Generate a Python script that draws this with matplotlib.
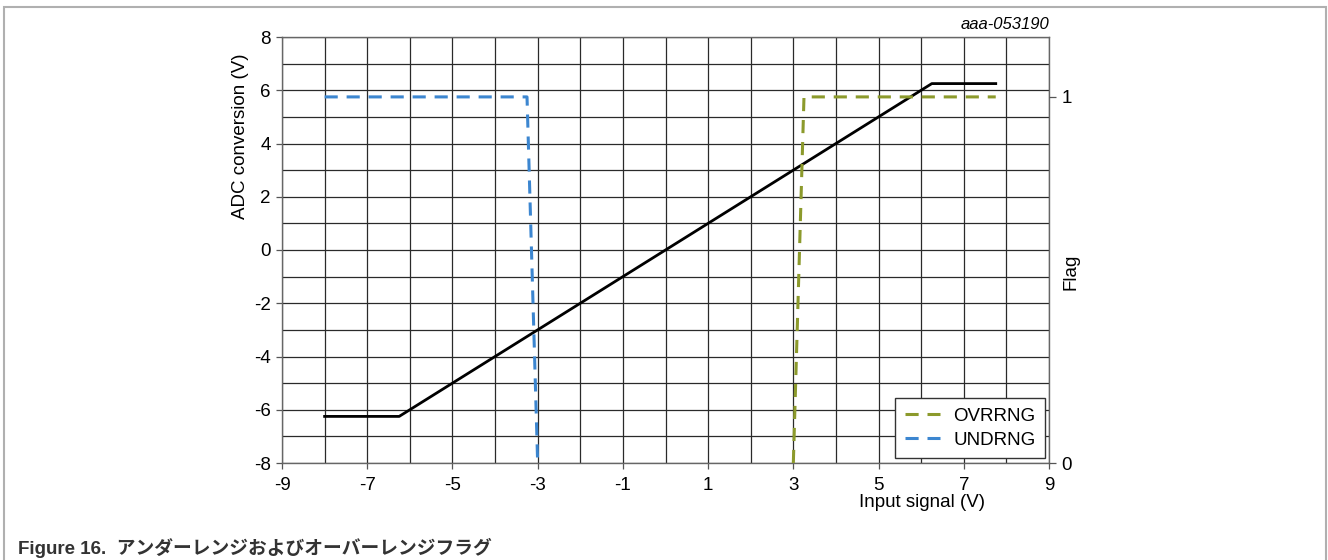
import numpy as np
import matplotlib
matplotlib.use('Agg')
import matplotlib.pyplot as plt
from matplotlib.patches import Rectangle

plt.rcParams['font.family'] = ['Liberation Sans', 'Noto Sans CJK JP']
plt.rcParams['axes.unicode_minus'] = False

# ADC conversion (left axis)
adc_x = [-8, -6.25, 6.25, 7.75]
adc_y = [-6.25, -6.25, 6.25, 6.25]

# flags (right axis)
undrng_x = [-8, -3.25, -3]
undrng_flag = [1, 1, 0]
ovrrng_x = [3, 3.25, 7.75]
ovrrng_flag = [0, 1, 1]

x_ticks = [-9, -7, -5, -3, -1, 1, 3, 5, 7, 9]
y_ticks = [-8, -6, -4, -2, 0, 2, 4, 6, 8]
flag_ticks = [0, 1]

blue = '#3C86D0'
olive = '#8C9A2C'
grid_col = '#2a2a2a'
fs = 13.5

fig = plt.figure(figsize=(13.28, 5.6), dpi=100)
ax = fig.add_axes([282/1328, 1 - 463/560, 767/1328, 426/560])

ax.set_xlim(-9, 9)
ax.set_ylim(-8, 8)
ax.set_xticks(x_ticks)
ax.set_yticks(y_ticks)
ax.set_xticks(np.arange(-9, 10, 1), minor=True)
ax.set_yticks(np.arange(-8, 9, 1), minor=True)
ax.grid(which='both', color=grid_col, lw=0.9)
ax.set_axisbelow(True)
ax.tick_params(which='minor', length=0)
ax.tick_params(which='major', direction='out', length=4, width=0.9,
               color='#555555', labelsize=fs, pad=4)
ax.tick_params(axis='x', pad=6)
for s in ax.spines.values():
    s.set_color('#666666')
    s.set_linewidth(1.0)

ax.plot(adc_x, adc_y, color='black', lw=2.0, zorder=3)

ax.set_xlabel('Input signal (V)', fontsize=fs)
ax.xaxis.set_label_coords(0.834, -0.072)
ax.set_ylabel('ADC conversion (V)', fontsize=fs)
ax.yaxis.set_label_coords(-0.043, 0.766)

ax2 = ax.twinx()
ax2.set_ylim(0, 16 / 13.75)
ax2.set_yticks(flag_ticks)
ax2.tick_params(direction='out', length=5, width=0.9, color='#555555',
                labelsize=fs, pad=4)
for s in ax2.spines.values():
    s.set_visible(False)

l_ov, = ax2.plot(ovrrng_x, ovrrng_flag, color=olive, lw=2.2,
                 dashes=(4.3, 2.9), label='OVRRNG')
l_un, = ax2.plot(undrng_x, undrng_flag, color=blue, lw=2.2,
                 dashes=(4.3, 2.9), label='UNDRNG')
ax2.set_ylabel('Flag', fontsize=fs)
ax2.yaxis.set_label_coords(1.017, 0.448)

leg = ax2.legend(handles=[l_ov, l_un], loc='lower right',
                 bbox_to_anchor=(0.995, 0.012), borderaxespad=0,
                 fancybox=False, framealpha=1, edgecolor='#333333',
                 fontsize=fs, handlelength=1.9, handletextpad=0.7,
                 borderpad=0.5, labelspacing=0.35)
leg.get_frame().set_linewidth(1.0)

ax.text(1.0, 1.03, 'aaa-053190', transform=ax.transAxes, ha='right',
        va='center', fontsize=12, style='italic')

fig.text(18/1328, 1 - 548/560, 'Figure 16.  アンダーレンジおよびオーバーレンジフラグ',
         fontsize=13.5, fontweight='bold', color='#333333', va='center')

fig.patches.append(Rectangle((4/1328, -0.1), 1322/1328, 1.1 - 7/560,
                             transform=fig.transFigure, fill=False,
                             edgecolor='#b0b0b0', lw=1.5))

fig.savefig('out.png', dpi=100)
